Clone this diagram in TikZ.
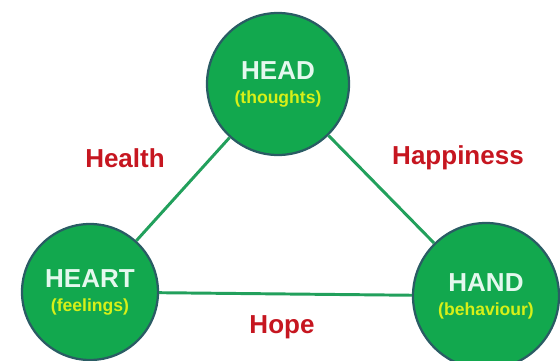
\documentclass[tikz,border=0pt]{standalone}
\usepackage{fontspec}
\setmainfont{Liberation Sans}
\usepackage{tikz}
\definecolor{leaf}{RGB}{18,168,78}
\definecolor{rim}{RGB}{42,92,100}
\definecolor{stem}{RGB}{34,160,92}
\definecolor{pale}{RGB}{228,248,238}
\definecolor{lime}{RGB}{214,240,24}
\definecolor{crimson}{RGB}{198,22,32}
\newcommand{\subtext}[1]{{\color{lime}\fontsize{12.5}{14}\selectfont #1}}
\tikzset{
  every edge/.append style={line width=2.1pt,stem},
  part/.style={circle,draw=rim,line width=1.6pt,fill=leaf,minimum size=#1,
    inner sep=0pt,align=center,text=pale,font=\bfseries\fontsize{18.5}{22}\selectfont},
  virtue/.style={text=crimson,font=\bfseries\fontsize{18.5}{22}\selectfont},
}
\begin{document}
\begin{tikzpicture}
      \clip (0,0) rectangle (14,9);
      \node (head) at (6.95,6.9) [part=3.55cm] {HEAD\\[-5pt]\subtext{(thoughts)}};
      \node (heart) at (2.25,1.7) [part=3.4cm] {HEART\\[-5pt]\subtext{(feelings)}};
      \node (hand) at (12.15,1.6) [part=3.65cm] {HAND\\[-5pt]\subtext{(behaviour)}};
      \draw (head) edge (heart) (head) edge (hand) (heart) edge (hand);
      \node (health) at (3.125,5.05) [virtue] {Health};
      \node (happiness) at (11.45,5.05) [virtue] {Happiness};
      \node (hope) at (7.05,0.82) [virtue] {Hope};
    \end{tikzpicture}
\end{document}
